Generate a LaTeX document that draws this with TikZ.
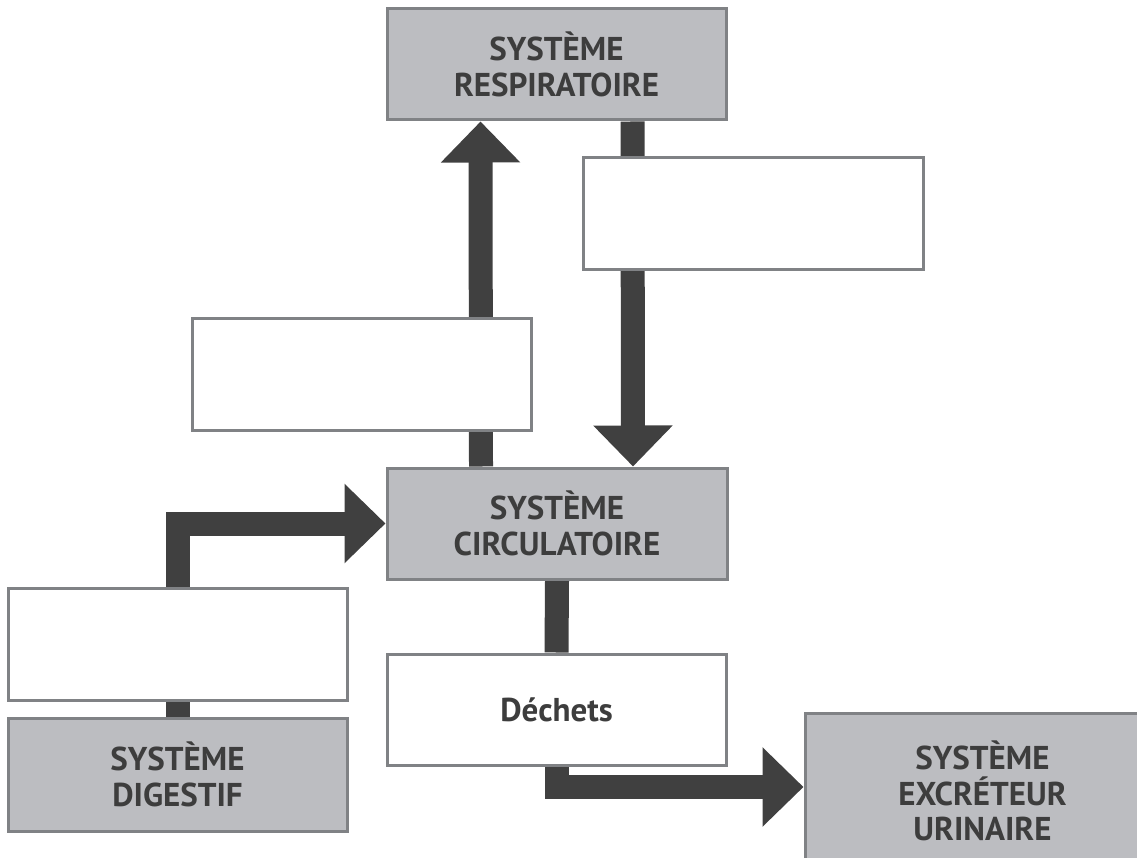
\documentclass[tikz,border=0pt]{standalone}
\usepackage{fontspec}
\setmainfont{PT Sans}
\usetikzlibrary{arrows.meta,calc}
\pgfdeclarelayer{bg}
\pgfsetlayers{bg,main}
\definecolor{boxgray}{HTML}{BCBDC1}
\definecolor{edgegray}{HTML}{808285}
\definecolor{arrowgray}{HTML}{404040}
\definecolor{textgray}{HTML}{3D3D3D}
\tikzset{
  sysbox/.style={draw=edgegray, line width=3pt, fill=boxgray, inner sep=0pt,
    align=center, text=textgray, font=\fontsize{33}{35.5}\selectfont\bfseries},
  blankbox/.style={draw=edgegray, line width=3pt, fill=white, inner sep=0pt,
    align=center, text=textgray, font=\fontsize{33}{35.5}\selectfont\bfseries,
    minimum width=339pt, minimum height=111pt},
  shaft/.style={draw=arrowgray, line width=24pt},
  arr/.style={shaft, -{Triangle[length=41pt,width=77pt]}}
}
\begin{document}
\begin{tikzpicture}[x=1pt,y=-1pt]
\useasboundingbox (0,0) rectangle (1137,858);
\clip (0,0) rectangle (1137,858);
\node[sysbox, minimum width=339pt, minimum height=111pt] (resp) at (556.5,64.5) {SYSTÈME\\RESPIRATOIRE};
\node[blankbox, minimum width=340pt, minimum height=112pt] (box1) at (753,214) {};
\node[blankbox] (box2) at (361.5,374.5) {};
\node[sysbox, minimum width=340pt, minimum height=111pt] (circ) at (557,523.5) {SYSTÈME\\CIRCULATOIRE};
\node[blankbox, minimum height=112pt] (box3) at (177.5,644) {};
\node[sysbox, minimum width=339pt, minimum height=113pt] (dig) at (177.5,774.5) {SYSTÈME\\DIGESTIF};
\node[blankbox] (dech) at (556.5,709.5) {Déchets};
\node[sysbox, minimum width=355pt, minimum height=156pt] (excr) at (982.5,791) {SYSTÈME\\EXCRÉTEUR\\URINAIRE};
\begin{pgfonlayer}{bg}
\draw[arr] ([xshift=-76pt]circ.north) -- ([xshift=-76pt]resp.south);
\draw[arr] ([xshift=76pt]resp.south) -- ([xshift=76pt]circ.north);
\draw[shaft] (dig.north) -- (box3.south);
\draw[arr] (box3.north) |- (circ.west);
\draw[shaft] (circ.south) -- (dech.north);
\draw[arr] (dech.south) |- ([yshift=4pt]excr.west);
\end{pgfonlayer}
\end{tikzpicture}
\end{document}
